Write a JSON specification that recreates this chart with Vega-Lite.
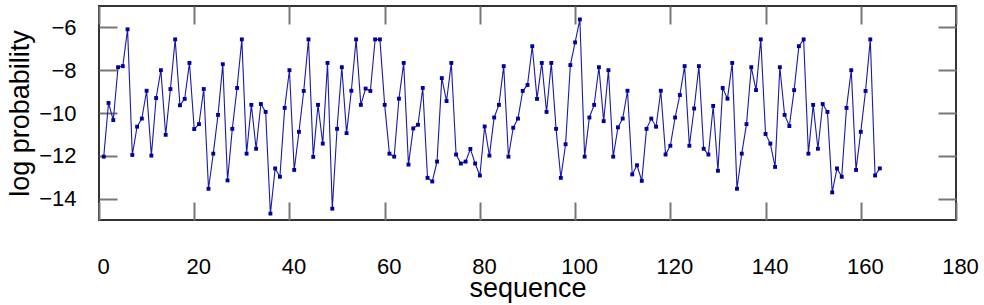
{
  "$schema": "https://vega.github.io/schema/vega-lite/v6.json",
  "width": 857,
  "height": 214,
  "autosize": "none",
  "padding": {"left": 99, "top": 6, "right": 28, "bottom": 85},
  "background": "white",
  "config": {
    "view": {"stroke": "#333333", "strokeWidth": 2},
    "axis": {"grid": false, "domain": false, "tickColor": "#777777", "tickWidth": 2, "tickSize": -18, "labelFont": "Liberation Sans", "labelFontSize": 22, "labelColor": "#000000", "titleFont": "Liberation Sans", "titleFontSize": 27, "titleFontWeight": "normal", "titleColor": "#000000"}
  },
  "data": {"values": [
    {"seq":1,"logp":-12.04},{"seq":2,"logp":-9.53},{"seq":3,"logp":-10.33},{"seq":4,"logp":-7.86},{"seq":5,"logp":-7.81},
    {"seq":6,"logp":-6.09},{"seq":7,"logp":-11.96},{"seq":8,"logp":-10.64},{"seq":9,"logp":-10.26},{"seq":10,"logp":-8.96},
    {"seq":11,"logp":-11.99},{"seq":12,"logp":-9.30},{"seq":13,"logp":-8.00},{"seq":14,"logp":-11.02},{"seq":15,"logp":-8.88},
    {"seq":16,"logp":-6.56},{"seq":17,"logp":-9.64},{"seq":18,"logp":-9.34},{"seq":19,"logp":-7.66},{"seq":20,"logp":-10.75},
    {"seq":21,"logp":-10.52},{"seq":22,"logp":-8.88},{"seq":23,"logp":-13.54},{"seq":24,"logp":-11.90},{"seq":25,"logp":-10.09},
    {"seq":26,"logp":-7.72},{"seq":27,"logp":-13.15},{"seq":28,"logp":-10.74},{"seq":29,"logp":-8.83},{"seq":30,"logp":-6.56},
    {"seq":31,"logp":-11.90},{"seq":32,"logp":-9.62},{"seq":33,"logp":-11.67},{"seq":34,"logp":-9.58},{"seq":35,"logp":-9.95},
    {"seq":36,"logp":-14.70},{"seq":37,"logp":-12.59},{"seq":38,"logp":-12.98},{"seq":39,"logp":-9.76},{"seq":40,"logp":-8.00},
    {"seq":41,"logp":-12.66},{"seq":42,"logp":-10.88},{"seq":43,"logp":-8.97},{"seq":44,"logp":-6.56},{"seq":45,"logp":-12.05},
    {"seq":46,"logp":-9.62},{"seq":47,"logp":-11.43},{"seq":48,"logp":-7.66},{"seq":49,"logp":-14.47},{"seq":50,"logp":-10.74},
    {"seq":51,"logp":-7.86},{"seq":52,"logp":-10.94},{"seq":53,"logp":-8.96},{"seq":54,"logp":-6.56},{"seq":55,"logp":-9.62},
    {"seq":56,"logp":-8.86},{"seq":57,"logp":-8.97},{"seq":58,"logp":-6.56},{"seq":59,"logp":-6.56},{"seq":60,"logp":-9.62},
    {"seq":61,"logp":-11.90},{"seq":62,"logp":-12.04},{"seq":63,"logp":-9.33},{"seq":64,"logp":-7.66},{"seq":65,"logp":-12.41},
    {"seq":66,"logp":-10.72},{"seq":67,"logp":-10.55},{"seq":68,"logp":-8.83},{"seq":69,"logp":-13.03},{"seq":70,"logp":-13.20},
    {"seq":71,"logp":-12.27},{"seq":72,"logp":-8.37},{"seq":73,"logp":-9.44},{"seq":74,"logp":-7.66},{"seq":75,"logp":-11.94},
    {"seq":76,"logp":-12.36},{"seq":77,"logp":-12.27},{"seq":78,"logp":-11.68},{"seq":79,"logp":-12.36},{"seq":80,"logp":-12.92},
    {"seq":81,"logp":-10.63},{"seq":82,"logp":-11.99},{"seq":83,"logp":-10.21},{"seq":84,"logp":-9.62},{"seq":85,"logp":-7.81},
    {"seq":86,"logp":-12.04},{"seq":87,"logp":-10.69},{"seq":88,"logp":-10.26},{"seq":89,"logp":-8.97},{"seq":90,"logp":-8.69},
    {"seq":91,"logp":-6.88},{"seq":92,"logp":-9.34},{"seq":93,"logp":-7.66},{"seq":94,"logp":-9.95},{"seq":95,"logp":-7.66},
    {"seq":96,"logp":-10.74},{"seq":97,"logp":-13.03},{"seq":98,"logp":-11.46},{"seq":99,"logp":-7.76},{"seq":100,"logp":-6.70},
    {"seq":101,"logp":-5.63},{"seq":102,"logp":-12.04},{"seq":103,"logp":-10.21},{"seq":104,"logp":-9.62},{"seq":105,"logp":-7.86},
    {"seq":106,"logp":-10.38},{"seq":107,"logp":-8.00},{"seq":108,"logp":-12.04},{"seq":109,"logp":-10.67},{"seq":110,"logp":-10.26},
    {"seq":111,"logp":-8.96},{"seq":112,"logp":-12.87},{"seq":113,"logp":-12.44},{"seq":114,"logp":-13.17},{"seq":115,"logp":-10.74},
    {"seq":116,"logp":-10.26},{"seq":117,"logp":-10.64},{"seq":118,"logp":-8.96},{"seq":119,"logp":-11.94},{"seq":120,"logp":-11.53},
    {"seq":121,"logp":-10.21},{"seq":122,"logp":-9.16},{"seq":123,"logp":-7.81},{"seq":124,"logp":-11.53},{"seq":125,"logp":-9.79},
    {"seq":126,"logp":-7.81},{"seq":127,"logp":-11.67},{"seq":128,"logp":-11.94},{"seq":129,"logp":-9.67},{"seq":130,"logp":-12.70},
    {"seq":131,"logp":-8.83},{"seq":132,"logp":-9.33},{"seq":133,"logp":-7.66},{"seq":134,"logp":-13.54},{"seq":135,"logp":-11.90},
    {"seq":136,"logp":-10.52},{"seq":137,"logp":-7.86},{"seq":138,"logp":-8.93},{"seq":139,"logp":-6.56},{"seq":140,"logp":-10.98},
    {"seq":141,"logp":-11.43},{"seq":142,"logp":-12.52},{"seq":143,"logp":-7.86},{"seq":144,"logp":-10.09},{"seq":145,"logp":-10.61},
    {"seq":146,"logp":-8.93},{"seq":147,"logp":-6.88},{"seq":148,"logp":-6.56},{"seq":149,"logp":-11.90},{"seq":150,"logp":-9.62},
    {"seq":151,"logp":-11.67},{"seq":152,"logp":-9.58},{"seq":153,"logp":-9.95},{"seq":154,"logp":-13.71},{"seq":155,"logp":-12.59},
    {"seq":156,"logp":-12.98},{"seq":157,"logp":-9.76},{"seq":158,"logp":-8.00},{"seq":159,"logp":-12.66},{"seq":160,"logp":-10.88},
    {"seq":161,"logp":-8.97},{"seq":162,"logp":-6.56},{"seq":163,"logp":-12.92},{"seq":164,"logp":-12.59}
  ]},
  "layer": [
    {
      "mark": {"type": "line", "color": "#1a1aa6", "strokeWidth": 1.1},
      "encoding": {
        "x": {"field": "seq", "type": "quantitative", "scale": {"domain": [0, 180], "nice": false, "zero": false},
              "axis": {"orient": "bottom", "values": [0,20,40,60,80,100,120,140,160,180], "labelPadding": 54, "labelOffset": 4, "labelFlush": false, "title": "sequence", "titleY": 76, "titleBaseline": "alphabetic"}},
        "y": {"field": "logp", "type": "quantitative", "scale": {"domain": [-15, -5], "nice": false, "zero": false},
              "axis": {"orient": "left", "values": [-14,-12,-10,-8,-6], "labelPadding": 41, "title": "log probability", "titleX": -71, "titleY": 107, "titleAngle": 270, "titleAlign": "center", "titleBaseline": "alphabetic"}}
      }
    },
    {
      "mark": {"type": "point", "shape": "square", "filled": true, "size": 15, "color": "#00009c", "opacity": 1},
      "encoding": {
        "x": {"field": "seq", "type": "quantitative", "axis": {"orient": "top", "values": [0,20,40,60,80,100,120,140,160,180], "labels": false, "title": null}},
        "y": {"field": "logp", "type": "quantitative", "axis": {"orient": "right", "values": [-14,-12,-10,-8,-6], "labels": false, "title": null}}
      }
    }
  ],
  "resolve": {"axis": {"x": "independent", "y": "independent"}}
}
